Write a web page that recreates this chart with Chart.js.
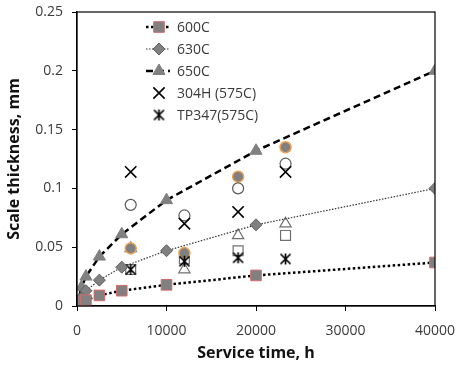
<!DOCTYPE html>
<html>
<head>
<meta charset="utf-8">
<script src="https://cdn.jsdelivr.net/npm/chart.js@4"></script>
<style>
  html, body { margin: 0; padding: 0; background: #fff; }
  #wrap { width: 456px; height: 368px; }
</style>
</head>
<body>
<div id="wrap"><canvas id="chart" width="456" height="368"></canvas></div>
<script>
// service time, h
const hours = [0, 500, 1000, 2500, 5000, 10000, 20000, 40000];
const scale600 = [0, 0.003, 0.005, 0.009, 0.013, 0.018, 0.026, 0.037];
const scale630 = [0, 0.007, 0.013, 0.022, 0.033, 0.047, 0.069, 0.100];
const scale650 = [0, 0.016, 0.025, 0.042, 0.061, 0.090, 0.132, 0.200];

// field measurements (575C)
const fieldHours = [6000, 12000, 18000, 23300];
const tube304H = [0.114, 0.070, 0.080, 0.114];
const tubeTP347 = [0.031, 0.038, 0.041, 0.040];
const openCircle = [0.086, 0.077, 0.100, 0.121];
const orangeCircle = [0.049, 0.045, 0.110, 0.135];
const openTriangle = [0.049, 0.031, 0.060, 0.070];
const openSquare = [0.031, 0.040, 0.047, 0.060];

const xTicks = [0, 10000, 20000, 30000, 40000];
const yTicks = ["0", "0.05", "0.1", "0.15", "0.2", "0.25"];

const pts = (xs, ys) => xs.map((x, i) => ({ x: x, y: ys[i] }));
const GRAY = "#808080";
const TXT = "#3a3a3a";
const FONT = "'Open Sans', 'DejaVu Sans', sans-serif";

// "ж"-like marker: an X with a vertical bar through it
function asteriskMark(size) {
    const c = document.createElement("canvas");
    c.width = size; c.height = size;
    const g = c.getContext("2d");
    const m = 1.5, s = size;
    g.strokeStyle = "#000";
    g.lineWidth = 1.7;
    g.beginPath();
    g.moveTo(m, m); g.lineTo(s - m, s - m);
    g.moveTo(s - m, m); g.lineTo(m, s - m);
    g.moveTo(s / 2, m - 0.5); g.lineTo(s / 2, s - m + 0.5);
    g.stroke();
    return c;
}
const asterisk = asteriskMark(13);

const datasets = [
    { label: "600C", data: pts(hours, scale600), showLine: true,
      borderColor: "#000", borderWidth: 2.5, borderDash: [2.5, 2.5],
      pointStyle: "rect", pointRadius: 7.5, pointBackgroundColor: GRAY,
      pointBorderColor: "#d46a6a", pointBorderWidth: 1 },
    { label: "630C", data: pts(hours, scale630), showLine: true,
      borderColor: "#333", borderWidth: 1.2, borderDash: [1.5, 1.5],
      pointStyle: "rectRot", pointRadius: 6, pointBackgroundColor: GRAY,
      pointBorderColor: "#606060", pointBorderWidth: 1 },
    { label: "650C", data: pts(hours, scale650), showLine: true,
      borderColor: "#000", borderWidth: 2.5, borderDash: [7, 4],
      pointStyle: "triangle", pointRadius: 7, pointBackgroundColor: GRAY,
      pointBorderColor: GRAY, pointBorderWidth: 1 },
    { label: "304H (575C)", data: pts(fieldHours, tube304H), showLine: false,
      pointStyle: "crossRot", pointRadius: 8, pointBorderColor: "#000",
      pointBorderWidth: 1.6 },
    { label: "TP347(575C)", data: pts(fieldHours, tubeTP347), showLine: false,
      pointStyle: asterisk, pointRadius: 6, pointBorderColor: "#000",
      pointBorderWidth: 1.6 },
    { label: "", data: pts(fieldHours, openCircle), showLine: false,
      pointStyle: "circle", pointRadius: 5.5, pointBackgroundColor: "rgba(255,255,255,0)",
      pointBorderColor: "#595959", pointBorderWidth: 1.2 },
    { label: "", data: pts(fieldHours, orangeCircle), showLine: false,
      pointStyle: "circle", pointRadius: 5.5, pointBackgroundColor: GRAY,
      pointBorderColor: "#f0a050", pointBorderWidth: 1.5 },
    { label: "", data: pts(fieldHours, openTriangle), showLine: false,
      pointStyle: "triangle", pointRadius: 6.5, pointBackgroundColor: "rgba(255,255,255,0)",
      pointBorderColor: "#707070", pointBorderWidth: 1.2 },
    { label: "", data: pts(fieldHours, openSquare), showLine: false,
      pointStyle: "rect", pointRadius: 7, pointBackgroundColor: "rgba(255,255,255,0)",
      pointBorderColor: "#707070", pointBorderWidth: 1.2 }
];

// box round the plot area
const frame = {
    id: "frame",
    afterDraw(chart) {
        const a = chart.chartArea, ctx = chart.ctx;
        ctx.save();
        ctx.strokeStyle = "#000";
        ctx.lineWidth = 1.2;
        ctx.strokeRect(a.left, a.top, a.right - a.left, a.bottom - a.top);
        ctx.restore();
    }
};

// legend inside the plot, first five series only
const innerLegend = {
    id: "innerLegend",
    afterDraw(chart) {
        const ctx = chart.ctx;
        const x0 = 146, x1 = 170, xm = 159, xt = 177;
        const rows = [27, 49, 71, 93, 115];
        ctx.save();
        for (let i = 0; i < 5; i++) {
            const ds = chart.data.datasets[i];
            const y = rows[i];
            if (ds.showLine) {
                ctx.save();
                ctx.strokeStyle = ds.borderColor;
                ctx.lineWidth = ds.borderWidth;
                ctx.setLineDash(ds.borderDash);
                ctx.beginPath();
                ctx.moveTo(x0, y);
                ctx.lineTo(x1, y);
                ctx.stroke();
                ctx.restore();
            }
            ctx.fillStyle = ds.pointBackgroundColor || "rgba(0,0,0,0)";
            ctx.strokeStyle = ds.pointBorderColor;
            ctx.lineWidth = ds.pointBorderWidth;
            Chart.helpers.drawPoint(ctx, {
                pointStyle: ds.pointStyle, radius: ds.pointRadius,
                rotation: 0, borderWidth: ds.pointBorderWidth
            }, xm, y);
            ctx.fillStyle = TXT;
            ctx.font = "14px " + FONT;
            ctx.textBaseline = "middle";
            ctx.fillText(ds.label, xt, y + 1);
        }
        ctx.restore();
    }
};

new Chart(document.getElementById("chart"), {
    type: "scatter",
    data: { datasets: datasets },
    options: {
        responsive: false,
        animation: false,
        layout: { padding: { top: 12, right: 21, left: 0, bottom: 0 } },
        plugins: { legend: { display: false }, tooltip: { enabled: false } },
        scales: {
            x: {
                type: "linear", min: 0, max: 40000,
                afterFit: s => { s.height = 62; s.paddingLeft = 0; s.paddingRight = 0; },
                afterBuildTicks: s => { s.ticks = xTicks.map(v => ({ value: v })); },
                grid: { drawOnChartArea: false, drawTicks: true, tickLength: 5, color: "#000" },
                border: { color: "#000", width: 1.2 },
                ticks: { color: TXT, padding: 12, font: { family: FONT, size: 14 },
                         callback: v => String(v) },
                title: { display: true, text: "Service time, h", color: "#111",
                         font: { family: FONT, size: 16, weight: "bold" },
                         padding: { top: 0, bottom: 5 } }
            },
            y: {
                type: "linear", min: 0, max: 0.25,
                afterFit: s => { s.width = 77; s.paddingTop = 0; s.paddingBottom = 0; },
                afterBuildTicks: s => { s.ticks = yTicks.map(v => ({ value: Number(v) })); },
                grid: { drawOnChartArea: false, drawTicks: true, tickLength: 5, color: "#000" },
                border: { color: "#000", width: 1.2 },
                ticks: { color: TXT, padding: 9, font: { family: FONT, size: 14 },
                         callback: (v, i) => yTicks[i] },
                title: { display: true, text: "Scale thickness, mm", color: "#111",
                         font: { family: FONT, size: 16, weight: "bold" },
                         padding: { top: 5, bottom: 0 } }
            }
        }
    },
    plugins: [frame, innerLegend]
});
</script>
</body>
</html>
